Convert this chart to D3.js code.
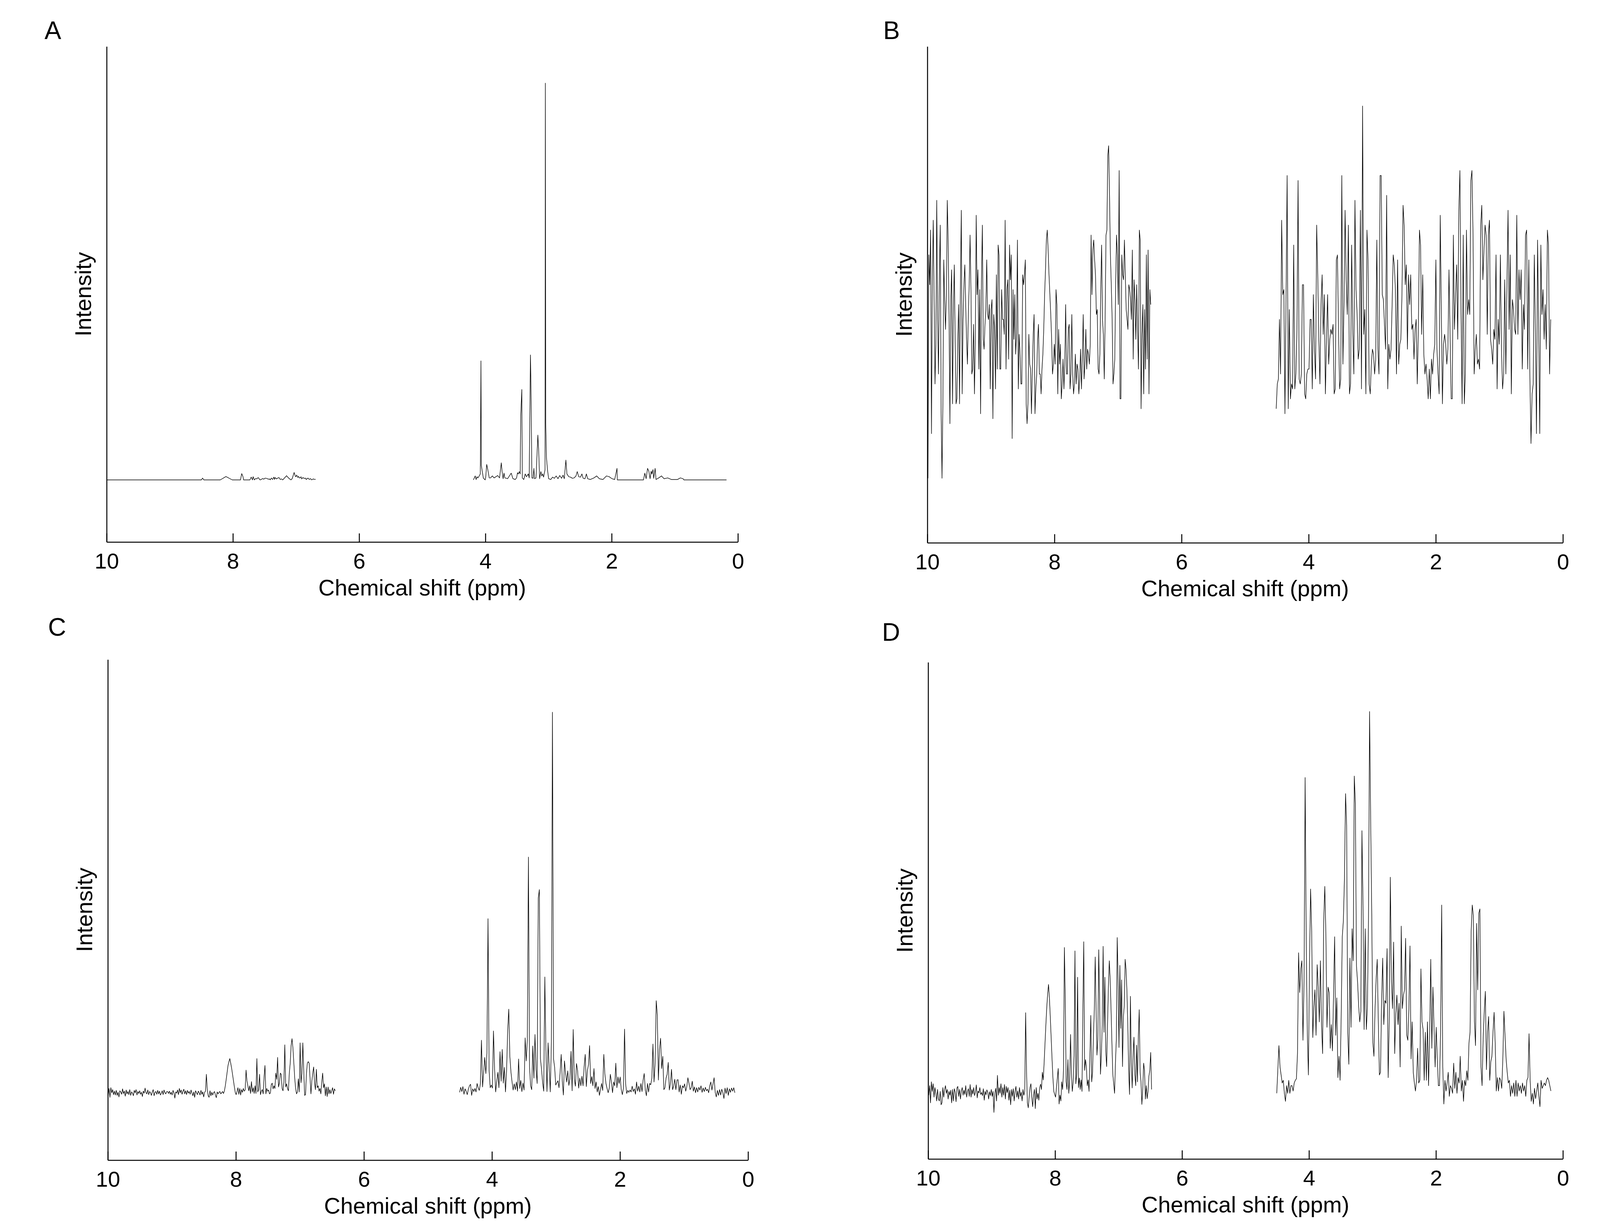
<!DOCTYPE html>
<html>
<head>
<meta charset="utf-8">
<script src="https://cdn.jsdelivr.net/npm/d3@7"></script>
<style>
  body { margin: 0; background: #fff; }
  svg text { font-family: 'Liberation Sans', Arial, sans-serif; fill: #000; }
</style>
</head>
<body>
<svg id="chart"></svg>
<script>
// x axis ticks shared by the four panels (ppm, reversed)
const ppmTicks = [10, 8, 6, 4, 2, 0];

// Panel A: sparse spectrum, read as [ppm, intensity] pairs (tallest peak = 100)
const aLeft = [
  [10.0, 0], [8.50, 0], [8.48, 0.46], [8.46, 0], [8.20, 0], [8.11, 0.85], [8.01, 0], [7.88, 0],
  [7.86, 1.59], [7.84, 0.81], [7.83, 0], [7.73, 0], [7.71, 0.71], [7.69, 0], [7.68, 0.81], [7.66, 0],
  [7.64, 0.35], [7.62, 0.25], [7.60, 0.6], [7.57, 0], [7.55, 0.11], [7.53, 0.35], [7.51, 0.18],
  [7.49, 0.46], [7.46, 0.35], [7.44, 0.18], [7.42, 0.25], [7.41, 0], [7.39, 0.46], [7.37, 0.11],
  [7.35, 0.71], [7.34, 0.11], [7.33, 0.6], [7.31, 0.25], [7.29, 0.46], [7.27, 0.6], [7.25, 0.11],
  [7.23, 0.25], [7.21, 0], [7.15, 1.06], [7.11, 0.35], [7.08, 0], [7.06, 0.35], [7.03, 1.87],
  [7.01, 0.88], [7.00, 0.81], [6.99, 1.23], [6.97, 0.6], [6.96, 0.88], [6.94, 0.46], [6.92, 0.78],
  [6.91, 0.25], [6.89, 0.6], [6.87, 0.35], [6.85, 0.46], [6.84, 0.11], [6.81, 0.46], [6.79, 0.11],
  [6.77, 0.32], [6.75, 0], [6.73, 0.25], [6.70, 0.11], [6.69, 0.18]
];
const aRight = [
  [4.19, 0], [4.161, 1.0], [4.147, 0.1], [4.133, 0.8], [4.118, 0.5], [4.098, 1.0], [4.081, 1.5],
  [4.07, 30.0], [4.064, 3.6], [4.047, 1.9], [4.033, 0.5], [4.004, 0], [3.996, 0.5], [3.979, 3.9],
  [3.962, 2.6], [3.939, 0.5], [3.919, 0.5], [3.89, 1.0], [3.862, 0.5], [3.833, 0.8], [3.805, 1.1],
  [3.776, 0.5], [3.748, 4.3], [3.734, 1.9], [3.719, 0.3], [3.705, 1.7], [3.691, 0.5], [3.648, 0.3],
  [3.591, 1.7], [3.563, 0.3], [3.528, 0.1], [3.506, 0.5], [3.491, 1.8], [3.477, 1.5], [3.463, 2.1],
  [3.449, 1.5], [3.44, 16.2], [3.423, 22.8], [3.415, 0.5], [3.392, 0.1], [3.369, 1.5], [3.349, 0.8],
  [3.32, 1.5], [3.306, 0.5], [3.286, 31.5], [3.278, 23.6], [3.263, 0.5], [3.244, 0.4], [3.232, 2.9],
  [3.221, 0.3], [3.198, 0.5], [3.169, 11.3], [3.155, 7.1], [3.141, 0.3], [3.121, 2.1], [3.107, 1.0],
  [3.092, 1.5], [3.078, 0.7], [3.055, 2.6], [3.05, 100], [3.044, 14.3], [3.033, 5.7], [3.016, 2.5],
  [2.998, 0.3], [2.964, 0.1], [2.936, 0.7], [2.907, 0.4], [2.879, 1.0], [2.85, 0.3], [2.822, 1.1],
  [2.793, 0.4], [2.77, 1.2], [2.75, 0.3], [2.725, 5.0], [2.708, 1.5], [2.679, 0.8], [2.651, 0.7],
  [2.622, 0.4], [2.594, 0.5], [2.565, 1.0], [2.545, 2.1], [2.522, 0.8], [2.494, 0.7], [2.471, 1.5],
  [2.451, 0.4], [2.423, 0.3], [2.4, 1.5], [2.38, 0.3], [2.337, 0.1], [2.28, 0.5], [2.237, 1.0],
  [2.195, 0.3], [2.138, 0.1], [2.081, 1.0], [2.038, 0.8], [1.995, 0.3], [1.952, 0.1], [1.915, 2.9],
  [1.91, 0], [1.496, 0], [1.474, 1.7], [1.454, 0.3], [1.431, 2.9], [1.411, 2.2], [1.391, 0.3],
  [1.374, 2.2], [1.363, 1.5], [1.345, 2.6], [1.334, 0.4], [1.311, 2.9], [1.297, 0.1], [1.254, 0.5],
  [1.211, 1.0], [1.169, 0.3], [1.112, 0.5], [1.055, 0.1], [0.955, 0.1], [0.912, 0.5], [0.869, 0.3],
  [0.855, 0], [0.18, 0]
];

// Panels B-D: intensities read at even steps between the listed ppm limits
const bLeftRange = [9.99, 6.485];
const bLeftInt = [
  13, 58, 52, 63, 22, 53, 65, 49, 32, 40, 69, 45, 34, 54, 64, 26, 13, 28, 57, 49,
  43, 50, 69, 61, 46, 24, 49, 55, 28, 47, 56, 41, 28, 29, 41, 48, 28, 52, 67, 30,
  45, 52, 56, 48, 41, 36, 46, 52, 62, 51, 34, 35, 44, 30, 41, 66, 50, 55, 35, 51,
  26, 53, 64, 41, 39, 44, 47, 57, 46, 45, 48, 31, 47, 49, 25, 46, 43, 31, 54, 35,
  60, 58, 35, 35, 51, 45, 45, 42, 65, 35, 51, 53, 37, 60, 53, 58, 21, 51, 41, 50,
  38, 42, 61, 31, 42, 38, 32, 32, 54, 52, 54, 57, 28, 24, 28, 42, 36, 35, 26, 35,
  42, 46, 26, 31, 34, 41, 44, 34, 34, 30, 35, 38, 43, 50, 55, 61, 63, 59, 54, 50,
  46, 41, 34, 36, 40, 36, 51, 48, 30, 43, 36, 40, 29, 32, 37, 31, 36, 48, 34, 34,
  43, 44, 31, 34, 46, 34, 30, 32, 38, 32, 36, 35, 30, 33, 39, 31, 37, 46, 33, 36,
  43, 35, 39, 38, 36, 40, 62, 50, 59, 61, 57, 54, 46, 47, 35, 34, 38, 51, 60, 45,
  42, 33, 45, 62, 63, 78, 80, 70, 58, 52, 45, 32, 34, 37, 52, 62, 58, 48, 75, 29,
  29, 58, 54, 53, 61, 54, 47, 45, 43, 52, 51, 49, 45, 59, 37, 53, 49, 41, 52, 43,
  35, 63, 61, 27, 42, 48, 30, 47, 35, 58, 37, 59, 30, 51, 48
];
const bRightRange = [4.511, 0.192];
const bRightInt = [
  27, 32, 33, 45, 34, 65, 50, 51, 26, 49, 74, 27, 47, 29, 32, 31, 60, 31, 34, 43,
  73, 33, 32, 34, 52, 52, 30, 29, 34, 35, 35, 45, 45, 31, 50, 39, 33, 64, 54, 41,
  32, 48, 54, 42, 50, 30, 41, 50, 36, 41, 43, 42, 44, 30, 31, 57, 58, 43, 31, 33,
  74, 36, 48, 67, 53, 46, 64, 30, 32, 60, 43, 34, 69, 51, 46, 37, 39, 67, 31, 88,
  42, 47, 30, 63, 57, 32, 30, 36, 39, 38, 34, 37, 61, 39, 34, 74, 74, 50, 49, 44,
  39, 70, 31, 40, 37, 39, 48, 58, 56, 51, 34, 57, 36, 40, 41, 50, 68, 64, 52, 56,
  39, 54, 48, 54, 43, 44, 37, 43, 45, 32, 43, 63, 60, 42, 54, 38, 34, 36, 33, 29,
  35, 29, 37, 34, 38, 40, 57, 39, 34, 30, 66, 47, 28, 40, 42, 40, 36, 39, 55, 42,
  29, 29, 62, 43, 50, 56, 41, 67, 75, 47, 28, 62, 28, 34, 63, 46, 49, 46, 73, 75,
  62, 34, 39, 42, 36, 37, 35, 64, 68, 53, 59, 64, 62, 42, 62, 65, 41, 39, 36, 43,
  41, 58, 31, 45, 40, 58, 39, 31, 34, 53, 34, 52, 67, 43, 58, 30, 49, 47, 43, 42,
  66, 42, 55, 49, 55, 35, 48, 43, 62, 63, 35, 57, 33, 20, 30, 32, 58, 43, 22, 61,
  43, 22, 60, 46, 51, 41, 48, 39, 63, 60, 34, 45
];

const cLeftRange = [9.995, 6.447];
const cLeftInt = [
  -0.6, 1.3, -1.0, 1.5, 0.2, 1.0, -0.3, 0.6, -0.4, 0.8, -0.5, 0.3, -0.9, 0.7, 0.4, -0.2, 1.2, 0.0, 0.6, -0.7,
  0.9, -0.1, 0.5, -0.3, 1.0, -0.5, 0.4, 0.1, -0.6, 0.8, 0.2, 1.0, -0.4, 0.5, 0.0, 0.7, -0.2, 0.3, -0.8, 0.6,
  0.1, 1.4, 0.2, -0.1, 0.9, -0.3, 0.5, 0.2, -0.5, 0.4, 1.0, -0.6, 0.3, 0.5, -0.2, 0.8, -0.1, 0.6, -0.4, 0.0,
  0.7, -0.3, 0.9, 0.2, -0.1, 0.5, 0.5, 0.0, 0.6, -0.2, 0.3, -0.4, 0.8, 0.2, -1.2, 0.4, 0.1, 0.9, -0.3, 1.3,
  0.2, 0.9, -0.2, 0.6, 1.1, -0.1, 0.7, -0.3, 0.8, 0.1, 0.5, -0.2, 0.9, 0.1, -0.6, 0.4, -1.0, 0.7, 0.2, -0.3,
  0.6, 0.2, -0.4, 0.8, -0.2, 0.4, -0.9, 0.3, 0.6, 5.0, 1.0, -0.6, -1.0, 0.7, -0.6, 0.3, -0.4, 0.2, 0.5, -0.4,
  -1.1, 0.4, -0.1, 0.3, 0.5, -0.1, 0.2, 0.5, 0.0, 0.7, 2.0, 3.7, 5.5, 7.3, 8.3, 9.1, 7.9, 6.6, 5.0, 3.4,
  1.8, 0.3, -0.3, 0.5, 1.5, -0.2, 1.3, -0.4, 1.0, 0.3, 1.3, 0.6, 0.9, 6.1, 3.3, 2.0, 0.7, 2.0, 0.0, 3.1,
  0.4, 1.5, 0.0, 2.0, 0.0, 9.1, 0.4, 1.0, 5.0, -0.3, 0.6, 1.0, -0.1, 4.3, 7.3, -0.1, 1.3, 0.6, 0.9, -0.1,
  0.1, 2.3, 2.7, 1.2, 2.0, 1.3, 5.3, 3.7, 9.4, 1.7, 2.7, 5.3, 5.0, 1.3, 0.7, 3.0, 12.7, 1.7, 2.5, 1.3,
  0.7, 5.3, 7.9, 12.5, 14.3, 11.9, 8.0, 4.0, 1.3, -0.1, 0.4, 3.8, 0.4, 13.2, 2.8, 5.3, 13.2, 6.0, -0.5, -0.3,
  5.3, 7.9, 8.3, 7.9, 4.0, -0.1, 3.3, 5.3, 6.9, 2.7, 1.0, 6.3, 1.5, 2.0, 0.6, 1.3, -0.1, 3.0, 5.3, 1.5,
  2.5, -0.6, 1.7, -0.8, 1.7, -0.1, 1.0, 0.0, 0.7, 1.5, -0.2, 1.2, 0.7
];
const cRightRange = [4.505, 0.206];
const cRightInt = [
  0.3, 1.6, 0.5, 1.8, -0.2, 1.2, 0.6, -0.3, 1.1, 2.0, 2.4, -0.5, 1.2, 0.5, 1.3, 0.4, 2.6, 1.5, 0.8, 2.5,
  13.9, 1.7, 5.5, 9.4, 5.2, 10.5, 45.6, 6.0, 1.5, 2.2, 1.4, 16.3, 6.5, 0.4, 3.2, 5.5, 1.5, 10.9, 3.2, 11.5,
  2.7, 6.8, 0.4, 6.0, 16.5, 22.0, 9.6, 5.6, 3.0, 0.9, 2.5, 1.0, 3.0, 0.6, 9.0, 1.3, 3.4, 0.5, 2.7, 0.9,
  14.5, 8.5, 14.0, 61.7, 6.8, 2.0, 1.0, 12.4, 4.0, 15.4, 6.2, 2.6, 51.0, 53.2, 9.0, 6.3, 2.8, 0.6, 30.4, 11.5,
  0.5, 13.2, 7.0, 0.4, 12.9, 99.5, 9.0, 6.8, 2.2, 2.8, 3.3, 1.5, 5.5, 10.2, 3.2, -0.4, 8.5, 5.3, 3.0, 5.9,
  2.1, 3.8, 11.0, 0.7, 16.7, 3.8, 1.9, 7.8, 6.0, 1.4, 4.0, 2.0, 4.5, 2.0, 7.0, 10.2, 1.8, 6.0, 7.5, 12.5,
  2.6, 4.4, 2.0, 6.5, 1.3, 3.0, 0.4, 1.8, -0.5, 1.0, 2.6, 0.8, 10.2, 5.0, 2.6, 1.3, 0.2, 1.4, 5.0, 3.0,
  0.2, 3.0, 2.0, 7.9, 1.5, 4.3, 2.6, 4.3, 1.0, -0.3, 1.4, 16.8, 2.5, 0.0, 0.8, 0.3, 0.9, 0.4, 1.9, 0.5,
  1.2, -0.2, 3.0, 0.6, 1.9, 0.4, 2.6, 0.5, 3.5, 5.2, 0.9, -0.6, 2.6, 0.4, 2.6, 2.3, 4.0, 12.9, 3.0, 8.0,
  24.2, 20.5, 3.5, 11.5, 14.4, 6.5, 9.7, 1.0, 1.5, 4.0, 5.0, 8.1, 0.9, 2.6, 6.3, 1.0, 2.0, 3.7, 1.0, 3.5,
  3.6, 0.4, 2.2, -0.2, 2.0, 1.5, 2.5, 0.6, 1.8, 4.1, 2.6, 1.0, 1.5, 3.2, 0.6, 1.7, 0.2, 1.5, 0.4, 1.6,
  0.9, 2.0, 0.3, 1.4, 0.5, 1.6, 0.7, 1.1, 0.2, 2.0, 3.0, 0.9, 2.5, 4.1, 0.3, -0.9, 0.8, -0.5, 1.0, -0.4,
  1.1, 0.2, -1.3, 1.4, 0.0, 1.5, -0.5, 1.2, 0.3, 1.4, 0.6, 1.5, 0.2
];

const dLeftRange = [9.99, 6.48];
const dLeftInt = [
  -0.5, 2.0, -2.5, 3.0, 0.5, 2.5, -1.0, 1.5, 0.0, -2.0, 1.0, -1.5, -2.0, 0.5, -3.0, -2.5, 1.5, -1.0, 1.0, 2.0,
  0.0, 1.0, -1.5, 0.5, -0.5, 0.8, -2.5, 1.0, -2.0, 1.2, 0.3, -2.2, 1.4, 1.8, -0.8, 1.0, -1.5, 0.6, 1.5, -0.5,
  0.8, -0.3, 2.0, -1.0, 0.5, 1.2, -0.8, 2.3, -1.0, 1.0, -0.2, 1.5, -0.6, 0.3, 2.2, -1.2, 0.6, 0.1, 1.5, -0.3,
  0.2, -0.6, 1.2, -1.8, 0.5, -0.4, 0.9, 0.2, -1.5, 0.4, -0.6, 1.0, -0.8, 0.5, -5.0, 0.0, 1.3, -2.0, 4.7, -0.5,
  1.5, 0.0, 2.5, -1.0, 1.5, -0.5, 2.3, -1.5, 1.8, 0.2, 1.5, -1.8, 0.8, -3.0, 1.0, -0.8, 1.2, -2.0, 0.5, 1.8,
  -1.0, 0.6, -1.5, 1.5, -0.8, 0.3, -2.0, 1.0, -0.5, 0.5, 21.1, 6.0, -2.5, -3.8, -1.0, 1.5, 2.5, -1.0, -3.5, -0.5,
  1.0, -4.0, 1.5, -1.5, 0.0, -1.8, 1.5, 2.4, 1.0, 5.5, 3.5, 8.0, 13.0, 18.0, 22.5, 26.0, 28.5, 25.0, 20.0, 14.5,
  9.0, 4.0, 0.5, -0.3, -1.0, 1.5, 4.0, 6.5, -2.8, -0.5, -2.0, 3.0, 1.0, 6.0, 38.2, 25.0, 3.0, 1.0, 8.8, 0.0,
  3.5, 15.4, 5.0, 0.5, 3.0, 9.8, 37.3, 2.5, 5.0, 30.4, 1.5, 4.0, 1.0, 3.5, 0.5, 22.0, 39.7, 6.0, 8.8, 7.0,
  2.0, 3.5, 0.5, 10.0, 20.4, 3.0, 5.5, 15.0, 21.9, 35.7, 22.0, 10.0, 14.0, 37.6, 24.5, 5.0, 10.0, 18.0, 38.5, 16.0,
  30.4, 11.0, 7.0, 18.0, 28.0, 34.7, 30.0, 22.0, 13.0, 5.0, 2.5, 0.0, 8.0, 14.2, 40.8, 30.0, 12.0, 33.5, 17.0, 29.7,
  7.0, 20.0, 23.0, 35.1, 32.5, 27.0, 18.0, 6.0, -0.3, 25.4, 8.0, 1.4, 10.0, 14.7, 5.0, 2.0, 12.6, 3.0, 15.0, 21.9,
  5.5, 3.0, -2.9, 1.0, 7.9, 6.0, -1.5, 2.0, -1.4, 0.5, 4.5, 6.0, 10.7, 1.0
];
const dRightRange = [4.508, 0.189];
const dRightInt = [
  0, 6.2, 12.5, 6.9, 4.8, 2.7, 3.4, 0, -2.1, 2.0, 0, 3.4, 0, 2.0, 2.0, 0.6, 2.7, 3.4, 3.8, 10.4,
  36.8, 26.4, 32.6, 34.7, 13.9, 29.2, 82.7, 40.3, 15.6, 4.8, 34.0, 53.5, 42.4, 14.6, 22.9, 27.1, 15.2, 33.7, 27.8, 18.7,
  34.7, 18.0, 10.4, 45.2, 54.2, 41.7, 17.3, 27.8, 26.4, 11.8, 18.0, 11.1, 25.7, 41.0, 15.2, 25.0, 4.1, 9.7, 3.4, 20.1,
  41.0, 45.2, 56.3, 78.5, 70.2, 16.0, 7.6, 35.4, 17.3, 43.1, 34.7, 83.1, 75.8, 33.3, 29.2, 22.9, 18.7, 21.5, 68.8, 49.3,
  16.7, 43.1, 16.7, 22.2, 45.2, 100, 71.6, 46.6, 13.2, 9.7, 22.2, 29.9, 35.1, 18.7, 4.8, 5.5, 24.3, 35.4, 18.0, 24.3,
  23.6, 37.9, 4.1, 18.7, 56.6, 29.9, 22.2, 39.6, 10.4, 20.8, 25.7, 18.0, 23.6, 6.9, 43.8, 22.2, 25.7, 27.1, 40.6, 15.2,
  13.9, 22.2, 38.6, 9.0, 18.7, 5.5, 2.7, 0.6, 3.4, 11.8, 2.7, 3.4, 32.6, 18.7, 16.7, 3.4, 16.0, 3.4, 18.7, 2.0,
  15.2, 35.1, 11.8, 27.8, 17.3, 6.9, 17.3, 9.0, 2.0, 2.0, 16.0, 49.3, 6.9, -2.8, 3.4, 0.6, 2.7, 5.5, -0.8, 2.0,
  1.3, 0, 7.9, 1.3, 5.5, 0, 4.1, 2.7, 9.7, 0.6, 3.4, -2.1, 3.4, 2.0, 5.9, 3.4, 13.2, 16.0, 42.4, 49.3,
  46.6, 18.7, 12.5, 44.5, 27.1, 47.2, 48.3, 6.9, 2.0, 14.6, 21.5, 26.7, 6.2, 16.0, 20.1, 3.4, 8.3, 9.7, 16.0, 21.2,
  13.2, 0.6, 4.1, 0.6, 4.1, 3.4, 1.3, 9.0, 21.5, 15.2, 9.0, 5.5, 2.7, 3.4, -0.8, 2.0, 0, 2.7, -0.8, 3.4,
  -0.8, 2.7, 0.6, 2.0, 0, 2.7, 0.6, 2.0, -0.8, 3.4, 4.1, 15.6, 3.4, -2.1, 0, -2.8, 1.3, -1.4, 0.6, 2.7,
  -0.8, -3.5, 3.4, 1.3, 2.0, 2.7, 2.0, 3.4, 4.1, 3.4, 2.0, 0.6
];

// pair up evenly spaced readings with their ppm positions
function sampled(range, values) {
    const step = (range[1] - range[0]) / (values.length - 1);
    return values.map((v, i) => [range[0] + i * step, v]);
}

const W = 4200, H = 3132;

const panels = [
    { label: 'A', labelAt: [114, 100], box: { left: 273, right: 1889, top: 119, bottom: 1388 },
      yDomain: [-15.65, 109.25], segments: [aLeft, aRight] },
    { label: 'B', labelAt: [2261, 100], box: { left: 2374, right: 4001, top: 119, bottom: 1390 },
      yDomain: [0, 100], segments: [sampled(bLeftRange, bLeftInt), sampled(bRightRange, bRightInt)] },
    { label: 'C', labelAt: [123, 1628], box: { left: 276, right: 1915, top: 1689, bottom: 2971 },
      yDomain: [-17.4, 113.25], segments: [sampled(cLeftRange, cLeftInt), sampled(cRightRange, cRightInt)] },
    { label: 'D', labelAt: [2258, 1641], box: { left: 2376, right: 4001, top: 1696, bottom: 2968 },
      yDomain: [-17.2, 112.9], segments: [sampled(dLeftRange, dLeftInt), sampled(dRightRange, dRightInt)] }
];

const svg = d3.select('#chart')
    .attr('width', W)
    .attr('height', H)
    .attr('viewBox', `0 0 ${W} ${H}`);

svg.append('rect')
    .attr('width', W)
    .attr('height', H)
    .attr('fill', '#fff');

panels.forEach(p => {
    const b = p.box;
    const x = d3.scaleLinear().domain([10, 0]).range([b.left, b.right]);
    const y = d3.scaleLinear().domain(p.yDomain).range([b.bottom, b.top]);
    const g = svg.append('g').attr('class', `panel-${p.label}`);

    const line = d3.line()
        .x(d => x(d[0]))
        .y(d => y(d[1]));

    g.selectAll('.spectrum')
        .data(p.segments)
        .enter()
        .append('path')
        .attr('class', 'spectrum')
        .attr('d', line)
        .attr('fill', 'none')
        .attr('stroke', '#000')
        .attr('stroke-width', 1.4)
        .attr('stroke-linejoin', 'round');

    const xAxis = d3.axisBottom(x)
        .tickValues(ppmTicks)
        .tickFormat(d3.format('d'))
        .tickSizeInner(-22)
        .tickSizeOuter(0)
        .tickPadding(28);

    const xg = g.append('g')
        .attr('transform', `translate(0,${b.bottom})`)
        .call(xAxis);
    xg.attr('font-size', null).attr('font-family', null);
    xg.selectAll('path, line').attr('stroke', '#000').attr('stroke-width', 2.5);
    xg.selectAll('text').style('font-size', '56px');

    const yg = g.append('g')
        .attr('transform', `translate(${b.left},0)`)
        .call(d3.axisLeft(y).tickValues([]).tickSizeOuter(0));
    yg.select('.domain').attr('stroke', '#000').attr('stroke-width', 2.5);

    g.append('text')
        .attr('x', (b.left + b.right) / 2)
        .attr('y', b.bottom + 137)
        .style('text-anchor', 'middle')
        .style('font-size', '58px')
        .text('Chemical shift (ppm)');

    g.append('text')
        .attr('transform', `translate(${b.left - 40},${(b.top + b.bottom) / 2}) rotate(-90)`)
        .style('text-anchor', 'middle')
        .style('font-size', '58px')
        .text('Intensity');

    g.append('text')
        .attr('x', p.labelAt[0])
        .attr('y', p.labelAt[1])
        .style('font-size', '64px')
        .text(p.label);
});
</script>
</body>
</html>
